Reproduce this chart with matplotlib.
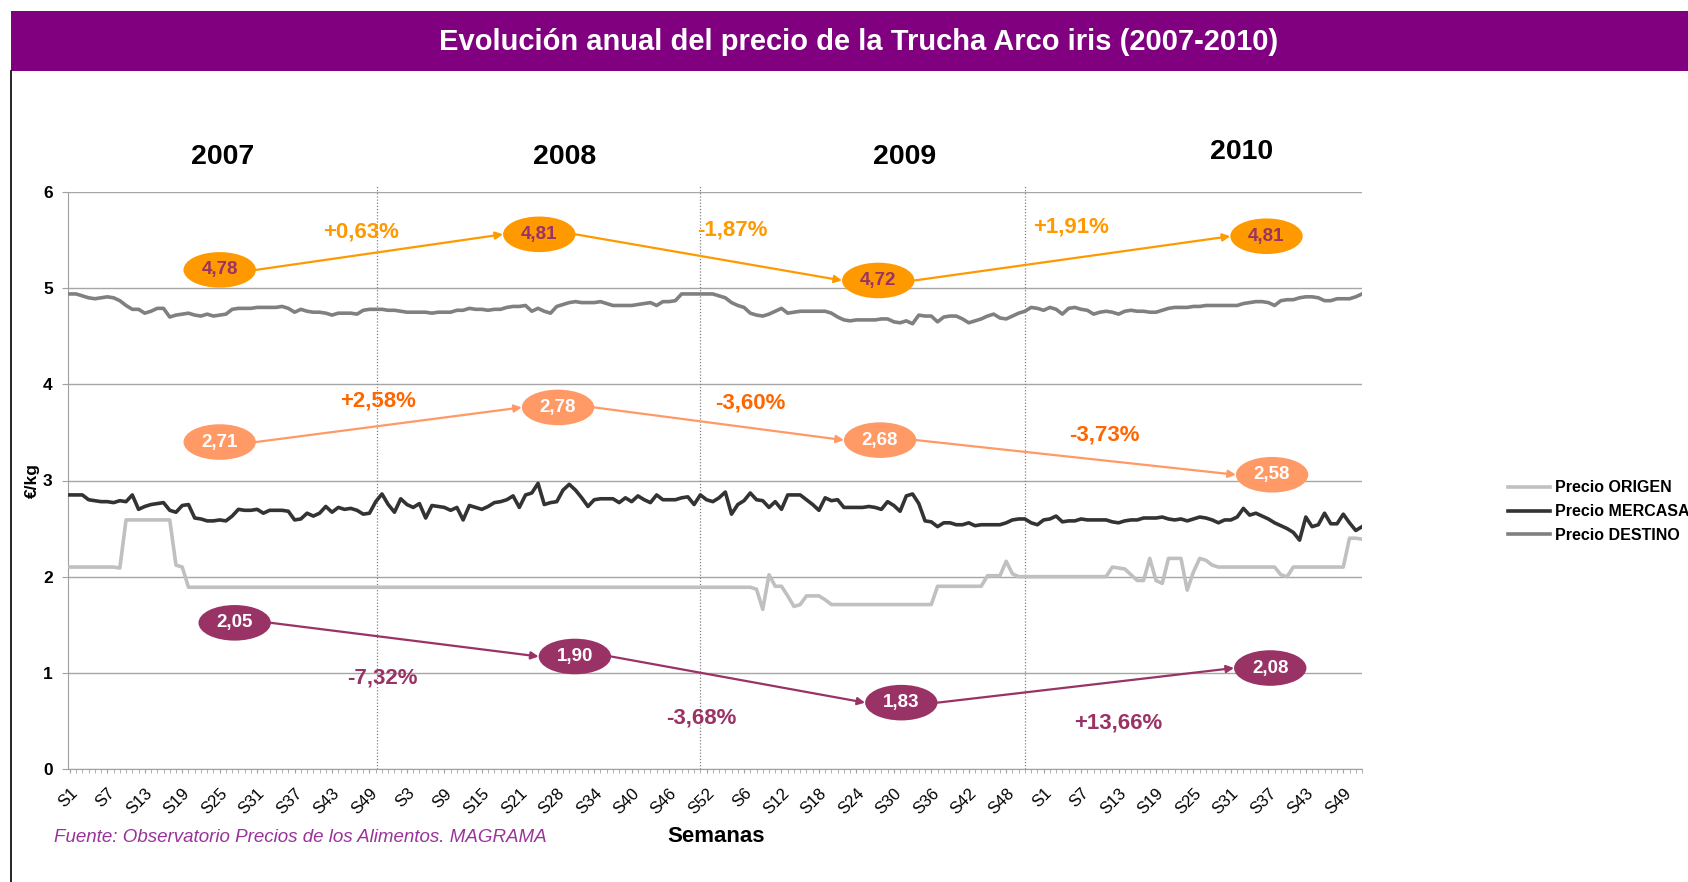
import matplotlib.pyplot as plt
from matplotlib.patches import Ellipse, Rectangle
from matplotlib.lines import Line2D
import numpy as np

plt.rcParams['font.family'] = ['Liberation Sans', 'DejaVu Sans']

# --- weekly prices (EUR/kg), one list per series and year ---
origen_2007 = [2.10, 2.10, 2.10, 2.10, 2.10, 2.10, 2.10, 2.10, 2.09, 2.59,
               2.59, 2.59, 2.59, 2.59, 2.59, 2.59, 2.59, 2.12, 2.10, 1.89,
               1.89, 1.89, 1.89, 1.89, 1.89, 1.89, 1.89, 1.89, 1.89, 1.89,
               1.89, 1.89, 1.89, 1.89, 1.89, 1.89, 1.89, 1.89, 1.89, 1.89,
               1.89, 1.89, 1.89, 1.89, 1.89, 1.89, 1.89, 1.89, 1.89, 1.89,
               1.89, 1.89]
origen_2008 = [1.89, 1.89, 1.89, 1.89, 1.89, 1.89, 1.89, 1.89, 1.89, 1.89,
               1.89, 1.89, 1.89, 1.89, 1.89, 1.89, 1.89, 1.89, 1.89, 1.89,
               1.89, 1.89, 1.89, 1.89, 1.89, 1.89, 1.89, 1.89, 1.89, 1.89,
               1.89, 1.89, 1.89, 1.89, 1.89, 1.89, 1.89, 1.89, 1.89, 1.89,
               1.89, 1.89, 1.89, 1.89, 1.89, 1.89, 1.89, 1.89, 1.89, 1.89,
               1.89, 1.89]
origen_2009 = [1.89, 1.89, 1.89, 1.89, 1.89, 1.89, 1.87, 1.66, 2.02, 1.90,
               1.90, 1.80, 1.69, 1.71, 1.80, 1.80, 1.80, 1.76, 1.71, 1.71,
               1.71, 1.71, 1.71, 1.71, 1.71, 1.71, 1.71, 1.71, 1.71, 1.71,
               1.71, 1.71, 1.71, 1.71, 1.71, 1.90, 1.90, 1.90, 1.90, 1.90,
               1.90, 1.90, 1.90, 2.01, 2.01, 2.01, 2.16, 2.03, 2.00, 2.00,
               2.00, 2.00]
origen_2010 = [2.00, 2.00, 2.00, 2.00, 2.00, 2.00, 2.00, 2.00, 2.00, 2.00,
               2.00, 2.10, 2.09, 2.08, 2.02, 1.96, 1.96, 2.19, 1.96, 1.93,
               2.19, 2.19, 2.19, 1.86, 2.05, 2.19, 2.17, 2.12, 2.10, 2.10,
               2.10, 2.10, 2.10, 2.10, 2.10, 2.10, 2.10, 2.10, 2.02, 2.00,
               2.10, 2.10, 2.10, 2.10, 2.10, 2.10, 2.10, 2.10, 2.10, 2.40,
               2.40, 2.39]

mercasa_2007 = [2.85, 2.85, 2.85, 2.80, 2.79, 2.78, 2.78, 2.77, 2.79, 2.78,
                2.85, 2.70, 2.73, 2.75, 2.76, 2.77, 2.69, 2.67, 2.74, 2.75,
                2.61, 2.60, 2.58, 2.58, 2.59, 2.58, 2.63, 2.70, 2.69, 2.69,
                2.70, 2.66, 2.69, 2.69, 2.69, 2.68, 2.59, 2.60, 2.66, 2.63,
                2.66, 2.73, 2.67, 2.72, 2.70, 2.71, 2.69, 2.65, 2.66, 2.78,
                2.86, 2.75]
mercasa_2008 = [2.67, 2.81, 2.75, 2.72, 2.76, 2.61, 2.74, 2.73, 2.72, 2.69,
                2.72, 2.59, 2.74, 2.72, 2.70, 2.73, 2.77, 2.78, 2.80, 2.84,
                2.72, 2.85, 2.87, 2.97, 2.75, 2.77, 2.78, 2.90, 2.96, 2.90,
                2.82, 2.73, 2.80, 2.81, 2.81, 2.81, 2.77, 2.82, 2.78, 2.84,
                2.80, 2.77, 2.85, 2.80, 2.80, 2.80, 2.82, 2.83, 2.75, 2.85,
                2.80, 2.78]
mercasa_2009 = [2.82, 2.88, 2.65, 2.75, 2.79, 2.87, 2.80, 2.79, 2.72, 2.78,
                2.70, 2.85, 2.85, 2.85, 2.80, 2.75, 2.69, 2.82, 2.79, 2.80,
                2.72, 2.72, 2.72, 2.72, 2.73, 2.72, 2.70, 2.78, 2.74, 2.68,
                2.84, 2.86, 2.76, 2.58, 2.57, 2.52, 2.56, 2.56, 2.54, 2.54,
                2.56, 2.53, 2.54, 2.54, 2.54, 2.54, 2.56, 2.59, 2.60, 2.60,
                2.56, 2.54]
mercasa_2010 = [2.59, 2.60, 2.63, 2.57, 2.58, 2.58, 2.60, 2.59, 2.59, 2.59,
                2.59, 2.57, 2.56, 2.58, 2.59, 2.59, 2.61, 2.61, 2.61, 2.62,
                2.60, 2.59, 2.60, 2.58, 2.60, 2.62, 2.61, 2.59, 2.56, 2.59,
                2.59, 2.62, 2.71, 2.64, 2.66, 2.63, 2.60, 2.56, 2.53, 2.50,
                2.46, 2.38, 2.62, 2.52, 2.54, 2.66, 2.55, 2.55, 2.65, 2.56,
                2.48, 2.52]

destino_2007 = [4.94, 4.94, 4.92, 4.90, 4.89, 4.90, 4.91, 4.90, 4.87, 4.82,
                4.78, 4.78, 4.74, 4.76, 4.79, 4.79, 4.70, 4.72, 4.73, 4.74,
                4.72, 4.71, 4.73, 4.71, 4.72, 4.73, 4.78, 4.79, 4.79, 4.79,
                4.80, 4.80, 4.80, 4.80, 4.81, 4.79, 4.75, 4.78, 4.76, 4.75,
                4.75, 4.74, 4.72, 4.74, 4.74, 4.74, 4.73, 4.77, 4.78, 4.78,
                4.78, 4.77]
destino_2008 = [4.77, 4.76, 4.75, 4.75, 4.75, 4.75, 4.74, 4.75, 4.75, 4.75,
                4.77, 4.77, 4.79, 4.78, 4.78, 4.77, 4.78, 4.78, 4.80, 4.81,
                4.81, 4.82, 4.76, 4.79, 4.76, 4.74, 4.81, 4.83, 4.85, 4.86,
                4.85, 4.85, 4.85, 4.86, 4.84, 4.82, 4.82, 4.82, 4.82, 4.83,
                4.84, 4.85, 4.82, 4.86, 4.86, 4.87, 4.94, 4.94, 4.94, 4.94,
                4.94, 4.94]
destino_2009 = [4.92, 4.90, 4.85, 4.82, 4.80, 4.74, 4.72, 4.71, 4.73, 4.76,
                4.79, 4.74, 4.75, 4.76, 4.76, 4.76, 4.76, 4.76, 4.74, 4.70,
                4.67, 4.66, 4.67, 4.67, 4.67, 4.67, 4.68, 4.68, 4.65, 4.64,
                4.66, 4.63, 4.72, 4.71, 4.71, 4.65, 4.70, 4.71, 4.71, 4.68,
                4.64, 4.66, 4.68, 4.71, 4.73, 4.69, 4.68, 4.71, 4.74, 4.76,
                4.80, 4.79]
destino_2010 = [4.77, 4.80, 4.78, 4.73, 4.79, 4.80, 4.78, 4.77, 4.73, 4.75,
                4.76, 4.75, 4.73, 4.76, 4.77, 4.76, 4.76, 4.75, 4.75, 4.77,
                4.79, 4.80, 4.80, 4.80, 4.81, 4.81, 4.82, 4.82, 4.82, 4.82,
                4.82, 4.82, 4.84, 4.85, 4.86, 4.86, 4.85, 4.82, 4.87, 4.88,
                4.88, 4.90, 4.91, 4.91, 4.90, 4.87, 4.87, 4.89, 4.89, 4.89,
                4.91, 4.94]

week_labels = ['S1', 'S7', 'S13', 'S19', 'S25', 'S31', 'S37', 'S43', 'S49',
               'S3', 'S9', 'S15', 'S21', 'S28', 'S34', 'S40', 'S46', 'S52',
               'S6', 'S12', 'S18', 'S24', 'S30', 'S36', 'S42', 'S48',
               'S1', 'S7', 'S13', 'S19', 'S25', 'S31', 'S37', 'S43', 'S49']
years = ['2007', '2008', '2009', '2010']

# annual averages and changes shown in the bubbles
destino_avg = ['4,78', '4,81', '4,72', '4,81']
destino_chg = ['+0,63%', '-1,87%', '+1,91%']
mercasa_avg = ['2,71', '2,78', '2,68', '2,58']
mercasa_chg = ['+2,58%', '-3,60%', '-3,73%']
origen_avg = ['2,05', '1,90', '1,83', '2,08']
origen_chg = ['-7,32%', '-3,68%', '+13,66%']

origen = origen_2007 + origen_2008 + origen_2009 + origen_2010
mercasa = mercasa_2007 + mercasa_2008 + mercasa_2009 + mercasa_2010
destino = destino_2007 + destino_2008 + destino_2009 + destino_2010
weeks = np.arange(len(destino))

W, H = 1688, 882
fig = plt.figure(figsize=(W / 100, H / 100), dpi=100)
fig.patch.set_facecolor('white')

# title banner
fig.patches.append(Rectangle((11 / W, 1 - 71 / H), 1, 60 / H, transform=fig.transFigure,
                             facecolor='#800080', edgecolor='none'))
fig.text(859 / W, 1 - 42 / H, 'Evolución anual del precio de la Trucha Arco iris (2007-2010)',
         color='white', fontsize=21, fontweight='bold', ha='center', va='center')
fig.lines.append(Line2D([11 / W, 11 / W], [0, 1 - 71 / H], transform=fig.transFigure,
                        color='black', lw=1.2))

ax = fig.add_axes([68 / W, (H - 769) / H, (1362 - 68) / W, (769 - 192) / H])

ax.plot(weeks, origen, color='#C0C0C0', lw=2.6, label='Precio ORIGEN', zorder=3)
ax.plot(weeks, mercasa, color='#333333', lw=2.6, label='Precio MERCASA', zorder=3)
ax.plot(weeks, destino, color='#808080', lw=2.6, label='Precio DESTINO', zorder=3)

ax.set_xlim(-0.3, len(destino) - 1)
ax.set_ylim(0, 6)
ax.set_yticks(range(0, 7))
ax.set_yticklabels([str(v) for v in range(0, 7)], fontweight='bold', fontsize=12.5)
ax.set_xticks(np.arange(0, len(destino), 6))
ax.set_xticklabels(week_labels, rotation=45, ha='right', rotation_mode='anchor', fontsize=12)
ax.set_xticks(weeks, minor=True)
ax.tick_params(axis='x', which='both', length=3, color='#A0A0A0', pad=9)
ax.tick_params(axis='y', length=4, color='#A0A0A0', pad=7)
ax.grid(axis='y', color='#A6A6A6', lw=1)
ax.set_axisbelow(True)
for side in ['top', 'right']:
    ax.spines[side].set_visible(False)
for side in ['left', 'bottom']:
    ax.spines[side].set_color('#A0A0A0')

# year separators
for xs in [49.2, 101.0, 153.0]:
    ax.axvline(xs, ymin=0, ymax=1.01, color='#808080', ls=(0, (1, 1.5)), lw=0.9,
               clip_on=False, zorder=1)

year_pos = [(24.5, 6.36), (79.2, 6.36), (133.7, 6.36), (187.7, 6.42)]
for (xp, yp), yr in zip(year_pos, years):
    ax.text(xp, yp, yr, fontsize=20.5, fontweight='bold', ha='center', va='center',
            clip_on=False)

# bubbles with annual averages
def bubbles(centers, texts, face, text_color, chg_pos, chgs, chg_color):
    w, h = 11.6, 0.37
    for (cx, cy), t in zip(centers, texts):
        ax.add_patch(Ellipse((cx, cy), w, h, facecolor=face, edgecolor='none', zorder=5))
        ax.text(cx, cy, t, color=text_color, fontsize=13.5, fontweight='bold',
                ha='center', va='center', zorder=6)
    for (x0, y0), (x1, y1) in zip(centers[:-1], centers[1:]):
        ax.annotate('', xy=(x1 - w / 2, y1), xytext=(x0 + w / 2, y0),
                    arrowprops=dict(arrowstyle='-|>', color=face, lw=1.6,
                                    mutation_scale=11, shrinkA=0, shrinkB=0), zorder=4)
    for (px, py), t in zip(chg_pos, chgs):
        ax.text(px, py, t, color=chg_color, fontsize=16, fontweight='bold',
                ha='center', va='center', zorder=6)


bubbles([(24.0, 5.19), (75.2, 5.56), (129.5, 5.08), (191.7, 5.54)], destino_avg,
        '#FF9900', '#993366',
        [(46.6, 5.58), (106.1, 5.60), (160.4, 5.64)], destino_chg, '#FF9900')
bubbles([(24.0, 3.40), (78.2, 3.76), (129.8, 3.42), (192.6, 3.06)], mercasa_avg,
        '#FF9966', 'white',
        [(49.4, 3.83), (109.0, 3.81), (165.7, 3.47)], mercasa_chg, '#FF6600')
bubbles([(26.4, 1.52), (80.9, 1.17), (133.2, 0.69), (192.3, 1.05)], origen_avg,
        '#993366', 'white',
        [(50.0, 0.95), (101.1, 0.53), (168.0, 0.48)], origen_chg, '#993366')

fig.legend(loc='upper left', bbox_to_anchor=(1494 / W, 1 - 466 / H), frameon=False,
           prop={'weight': 'bold', 'size': 11.5}, handlelength=2.6, handletextpad=0.3,
           labelspacing=0.55)

fig.text(32 / W, 1 - 481 / H, '€/kg', rotation=90, fontsize=12.5, fontweight='bold',
         ha='center', va='center')
fig.text(716 / W, 1 - 837 / H, 'Semanas', fontsize=16, fontweight='bold',
         ha='center', va='center')
fig.text(54 / W, 1 - 837 / H, 'Fuente: Observatorio Precios de los Alimentos. MAGRAMA',
         fontsize=13.5, style='italic', color='#993399', ha='left', va='center')

fig.savefig('out.png', dpi=100)
